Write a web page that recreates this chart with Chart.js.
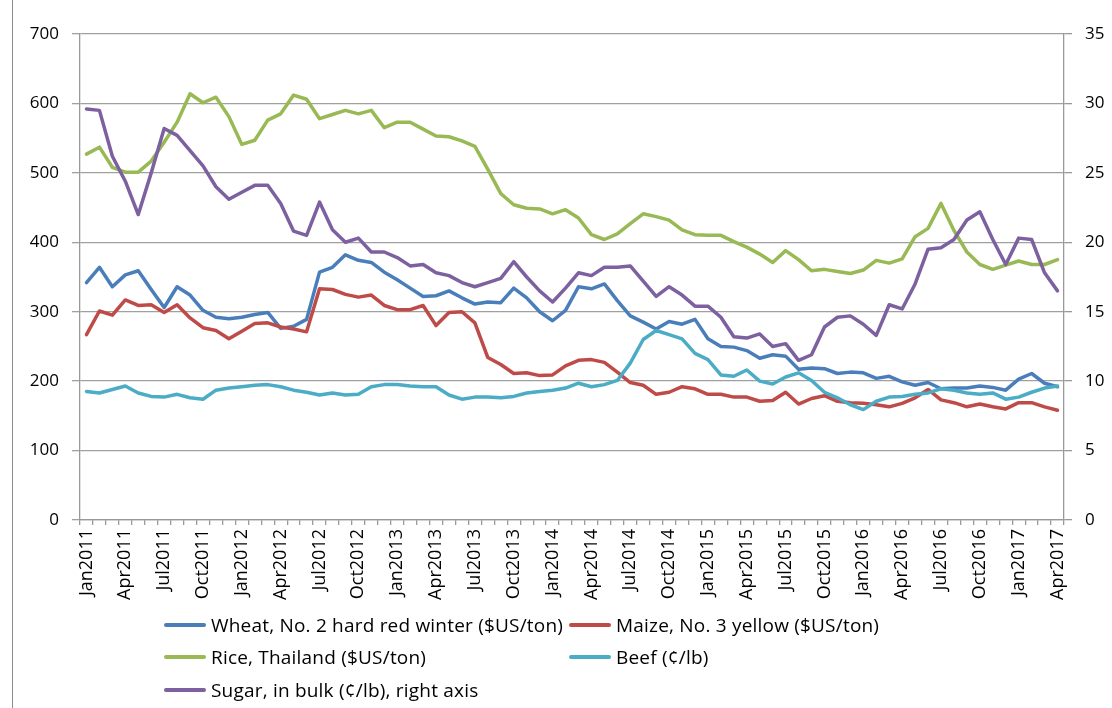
<!DOCTYPE html>
<html>
<head>
<meta charset="utf-8">
<script src="https://cdn.jsdelivr.net/npm/chart.js@4.4.1/dist/chart.umd.min.js"></script>
<style>
  body { margin: 0; background: #fff; }
  #wrap { position: relative; width: 1112px; height: 708px; overflow: hidden; }
  #frame { position: absolute; left: 12px; top: 0; height: 708px; border-left: 1.5px solid #8c8c8c; }
  .item { position: absolute; font-family: "Open Sans", sans-serif; font-size: 19px; letter-spacing: 0.2px; color: #000; white-space: nowrap; line-height: 22px; }
  .swatch { position: absolute; left: 0; top: 9px; width: 42px; height: 4px; border-radius: 2px; }
  .item span.txt { position: absolute; left: 47px; top: 0; }
</style>
</head>
<body>
<div id="wrap">
  <canvas id="myChart" width="1112" height="708"></canvas>
  <div id="frame"></div>
  <div id="legend"></div>
</div>
<script>
// categories: Jan2011 .. Apr2017, monthly
const monthNames = ["Jan","Feb","Mar","Apr","May","Jun","Jul","Aug","Sep","Oct","Nov","Dec"];
let months = [];
for (let y = 2011; y <= 2017; y++) {
    for (let m = 0; m < 12; m++) {
        if (y == 2017 && m > 3) break;
        months.push(monthNames[m] + y);
    }
}

// left axis, $US/ton or c/lb
const wheat = [342,364,336,353,359,332,306,336,324,302,292,290,
               292,296,299,276,279,289,357,364,382,374,371,357,
               346,334,322,323,330,320,311,314,313,334,320,300,
               287,302,336,333,340,316,294,285,275,286,282,289,
               261,250,249,244,233,238,236,217,219,218,211,213,
               212,204,207,199,194,198,189,190,190,193,191,187,
               203,211,197,192];
const maize = [267,301,295,317,309,310,299,310,291,277,273,261,
               272,283,284,278,275,271,333,332,325,321,324,309,
               303,303,309,280,299,300,284,234,224,211,212,208,
               209,222,230,231,227,213,198,194,181,184,192,189,
               181,181,177,177,171,172,184,167,175,179,171,169,
               168,166,163,168,176,188,173,169,163,167,163,160,
               169,169,163,158];
const rice = [527,537,508,501,501,517,544,573,614,601,609,581,
              541,547,576,585,612,606,578,584,590,585,590,565,
              573,573,563,553,552,546,538,505,470,454,449,448,
              441,447,435,411,404,412,427,441,437,432,418,411,
              410,410,401,393,383,371,388,375,359,361,358,355,
              360,374,370,376,408,420,456,417,386,368,361,367,
              373,368,368,375];
const beef = [185,183,188,193,183,178,177,181,176,174,187,190,
              192,194,195,192,187,184,180,183,180,181,192,195,
              195,193,192,192,180,174,177,177,176,178,183,185,
              187,190,197,192,195,201,226,260,273,267,261,240,
              231,209,207,216,200,196,206,212,201,184,176,166,
              159,171,177,178,181,183,189,187,183,181,183,174,
              177,184,190,193];
// right axis
const sugar = [29.6,29.5,26.2,24.4,22.0,25.0,28.2,27.7,26.6,25.5,24.0,23.1,
               23.6,24.1,24.1,22.8,20.8,20.5,22.9,20.9,20.0,20.3,19.3,19.3,
               18.9,18.3,18.4,17.8,17.6,17.1,16.8,17.1,17.4,18.6,17.5,16.5,
               15.7,16.7,17.8,17.6,18.2,18.2,18.3,17.2,16.1,16.8,16.2,15.4,
               15.4,14.6,13.2,13.1,13.4,12.5,12.7,11.5,11.9,13.9,14.6,14.7,
               14.1,13.3,15.5,15.2,17.0,19.5,19.6,20.2,21.6,22.2,20.2,18.4,
               20.3,20.2,17.8,16.5];

const seriesNames = ["Wheat, No. 2 hard red winter ($US/ton)", "Maize, No. 3 yellow ($US/ton)",
                     "Rice, Thailand ($US/ton)", "Beef (\u00a2/lb)", "Sugar, in bulk (\u00a2/lb), right axis"];
const seriesColors = ["#4a7ebb", "#be4b48", "#98b954", "#4bacc6", "#7d60a0"];

function line(i, data, axis) {
    return {
        label: seriesNames[i],
        data: data,
        yAxisID: axis,
        borderColor: seriesColors[i],
        backgroundColor: seriesColors[i],
        borderWidth: 3.5,
        pointRadius: 0,
        tension: 0,
        borderJoinStyle: "round",
        borderCapStyle: "round",
        order: 5 - i   // later series drawn on top, like excel
    };
}

const tickFont = { family: "Open Sans", size: 17 };

var ctx = document.getElementById("myChart").getContext("2d");
var myChart = new Chart(ctx, {
    type: "line",
    data: {
        labels: months,
        datasets: [
            line(0, wheat, "y"),
            line(1, maize, "y"),
            line(2, rice, "y"),
            line(3, beef, "y"),
            line(4, sugar, "y2")
        ]
    },
    options: {
        responsive: false,
        animation: false,
        layout: { padding: { top: 34, left: 0, right: 0, bottom: 0 } },
        plugins: { legend: { display: false }, tooltip: { enabled: false } },
        scales: {
            x: {
                offset: true,
                grid: { display: true, drawOnChartArea: false, offset: true, tickLength: 5, color: "#999", lineWidth: 1.3 },
                border: { color: "#999", width: 1.3 },
                ticks: {
                    autoSkip: false, minRotation: 90, maxRotation: 90, padding: 4,
                    color: "#000", font: { family: "Open Sans", size: 18 },
                    callback: function(v, i) { return i % 3 == 0 ? months[i] : ""; }
                },
                afterFit: function(s) { s.height = 188; }
            },
            y: {
                position: "left",
                min: 0, max: 700,
                ticks: { stepSize: 100, color: "#000", font: tickFont, padding: 13 },
                grid: { color: "#a0a0a0", lineWidth: 1.3, tickLength: 8 },
                border: { color: "#999", width: 1.3 },
                afterFit: function(s) { s.width = 80; }
            },
            y2: {
                position: "right",
                min: 0, max: 35,
                ticks: { stepSize: 5, color: "#000", font: tickFont, padding: 13 },
                grid: { drawOnChartArea: false, color: "#999", lineWidth: 1.3, tickLength: 8 },
                border: { color: "#999", width: 1.3 },
                afterFit: function(s) { s.width = 48; }
            }
        }
    }
});

// legend in two columns, like the original
var leg = document.getElementById("legend");
var colX = [164, 569];
var rowY = [614, 646, 679];
myChart.data.datasets.forEach(function(ds, i) {
    var d = document.createElement("div");
    d.className = "item";
    d.style.left = colX[i % 2] + "px";
    d.style.top = rowY[Math.floor(i / 2)] + "px";
    d.innerHTML = '<div class="swatch" style="background:' + ds.borderColor + '"></div><span class="txt"></span>';
    d.querySelector(".txt").textContent = ds.label;
    leg.appendChild(d);
});
</script>
</body>
</html>
